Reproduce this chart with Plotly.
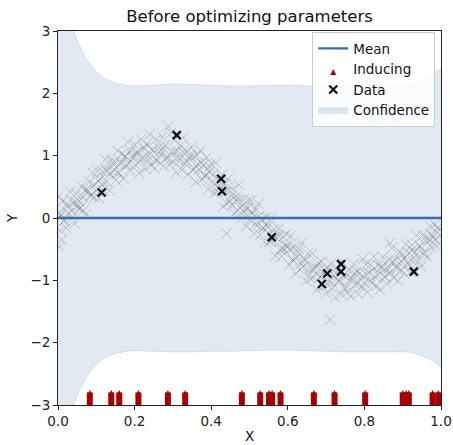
import plotly.graph_objects as go

# ---------------- data ----------------
gray_x = [
    0.002, 0.006, 0.009, 0.013, 0.017, 0.021, 0.024, 0.028, 0.032, 0.036, 0.040, 0.043, 0.047, 0.051, 0.055, 0.058, 0.062, 0.066, 0.070, 0.074, 0.078, 0.082, 0.086, 0.090, 0.095,
    0.099, 0.103, 0.107, 0.111, 0.115, 0.119, 0.123, 0.127, 0.131, 0.135, 0.139, 0.143, 0.147, 0.151, 0.155, 0.159, 0.163, 0.167, 0.171, 0.175, 0.179, 0.183, 0.187, 0.191, 0.196,
    0.200, 0.204, 0.208, 0.212, 0.216, 0.220, 0.224, 0.228, 0.232, 0.236, 0.240, 0.244, 0.248, 0.252, 0.256, 0.260, 0.264, 0.268, 0.272, 0.276, 0.280, 0.284, 0.288, 0.292, 0.296,
    0.300, 0.304, 0.308, 0.312, 0.316, 0.320, 0.324, 0.328, 0.332, 0.336, 0.340, 0.344, 0.348, 0.352, 0.356, 0.360, 0.364, 0.368, 0.372, 0.376, 0.380, 0.384, 0.388, 0.392, 0.396,
    0.400, 0.404, 0.408, 0.412, 0.416, 0.420, 0.424, 0.428, 0.432, 0.436, 0.440, 0.444, 0.448, 0.452, 0.456, 0.460, 0.464, 0.468, 0.472, 0.476, 0.480, 0.484, 0.488, 0.492, 0.496,
    0.500, 0.504, 0.508, 0.512, 0.516, 0.520, 0.524, 0.528, 0.532, 0.536, 0.540, 0.544, 0.548, 0.552, 0.556, 0.560, 0.564, 0.568, 0.572, 0.576, 0.580, 0.584, 0.588, 0.592, 0.596,
    0.600, 0.604, 0.608, 0.612, 0.616, 0.620, 0.624, 0.628, 0.632, 0.636, 0.640, 0.644, 0.648, 0.652, 0.656, 0.660, 0.664, 0.668, 0.672, 0.676, 0.680, 0.684, 0.688, 0.692, 0.696,
    0.700, 0.704, 0.708, 0.712, 0.716, 0.720, 0.724, 0.728, 0.732, 0.736, 0.740, 0.744, 0.748, 0.752, 0.756, 0.760, 0.764, 0.768, 0.772, 0.776, 0.780, 0.784, 0.788, 0.792, 0.796,
    0.800, 0.804, 0.808, 0.812, 0.816, 0.820, 0.824, 0.828, 0.832, 0.836, 0.840, 0.844, 0.848, 0.852, 0.856, 0.860, 0.864, 0.868, 0.872, 0.876, 0.880, 0.884, 0.888, 0.892, 0.896,
    0.900, 0.904, 0.908, 0.912, 0.916, 0.920, 0.924, 0.928, 0.932, 0.936, 0.940, 0.944, 0.948, 0.952, 0.956, 0.960, 0.964, 0.968, 0.972, 0.976, 0.980, 0.984, 0.988, 0.992, 0.997,
    0.004, 0.010, 0.001, 0.440, 0.710, 0.867,
    0.005, 0.015, 0.025, 0.035, 0.045, 0.055, 0.065, 0.075, 0.085, 0.095,
    0.105, 0.115, 0.125, 0.135, 0.145, 0.155, 0.165, 0.175, 0.185, 0.195,
    0.205, 0.215, 0.225, 0.235, 0.245, 0.255, 0.265, 0.275, 0.285, 0.295,
    0.305, 0.315, 0.325, 0.335, 0.345, 0.355, 0.365, 0.375, 0.385, 0.395,
    0.405, 0.415, 0.425, 0.435, 0.445, 0.455, 0.465, 0.475, 0.485, 0.495,
    0.505, 0.515, 0.525, 0.535, 0.545, 0.555, 0.565, 0.575, 0.585, 0.595,
    0.605, 0.615, 0.625, 0.635, 0.645, 0.655, 0.665, 0.675, 0.685, 0.695,
    0.705, 0.715, 0.725, 0.735, 0.745, 0.755, 0.765, 0.775, 0.785, 0.795,
    0.805, 0.815, 0.825, 0.835, 0.845, 0.855, 0.865, 0.875, 0.885, 0.895,
    0.905, 0.915, 0.925, 0.935, 0.945, 0.955, 0.965, 0.975, 0.985, 0.995,
]
gray_y = [
    0.08, -0.20, 0.05, 0.27, -0.04, -0.16, 0.23, 0.08, 0.42, 0.00, 0.25, -0.09, 0.39, 0.18, 0.27, 0.16, 0.51, 0.12, 0.44, 0.06, 0.43, 0.58, 0.35, 0.73, 0.33,
    0.44, 0.75, 0.32, 0.62, 0.75, 0.44, 0.94, 0.58, 0.77, 0.44, 0.93, 0.75, 0.91, 0.61, 1.08, 0.72, 0.87, 1.03, 0.63, 0.99, 0.85, 1.22, 0.77, 1.08, 0.96,
    1.18, 0.84, 1.06, 0.72, 1.26, 0.96, 1.13, 0.79, 1.19, 0.93, 1.34, 0.85, 1.08, 0.79, 1.26, 0.92, 1.13, 1.01, 1.30, 0.83, 1.17, 0.96, 1.47, 0.86, 1.37,
    0.91, 1.25, 0.73, 1.07, 0.96, 1.16, 0.77, 1.29, 0.87, 1.07, 0.70, 0.95, 1.13, 0.77, 0.99, 0.58, 1.01, 0.78, 1.08, 0.62, 0.84, 0.66, 0.97, 0.46, 0.82,
    0.87, 0.59, 0.40, 0.88, 0.42, 0.60, 0.51, 0.69, 0.18, 0.54, 0.24, 0.63, 0.27, 0.36, 0.46, 0.07, 0.34, 0.12, 0.53, 0.17, 0.00, 0.30, 0.15, -0.13, 0.28,
    -0.04, 0.28, 0.07, -0.25, 0.14, -0.12, 0.23, -0.27, -0.02, -0.16, -0.39, 0.01, -0.15, -0.38, 0.00, -0.35, -0.18, -0.61, -0.33, -0.17, -0.51, -0.62, -0.30, -0.51, -0.26,
    -0.45, -0.75, -0.29, -0.67, -0.47, -0.89, -0.62, -0.49, -0.83, -0.40, -0.78, -0.65, -1.01, -0.57, -0.81, -0.98, -0.57, -0.94, -0.80, -1.15, -0.72, -0.95, -0.70, -1.11, -0.84,
    -1.21, -0.81, -1.03, -0.73, -1.13, -0.93, -1.28, -0.79, -1.01, -0.88, -1.22, -0.72, -1.12, -0.94, -1.19, -0.84, -1.26, -0.98, -0.74, -1.07, -0.86, -1.22, -0.89, -1.11, -0.66,
    -1.04, -0.75, -1.19, -0.88, -0.75, -1.05, -0.62, -0.94, -1.09, -0.76, -1.15, -0.78, -0.63, -0.94, -0.82, -1.06, -0.67, -0.87, -0.48, -0.96, -0.67, -0.78, -1.01, -0.55, -0.84,
    -0.59, -0.89, -0.42, -0.72, -0.56, -0.87, -0.43, -0.71, -0.55, -0.28, -0.70, -0.45, -0.78, -0.28, -0.54, -0.30, -0.63, -0.34, -0.13, -0.47, -0.31, -0.11, -0.45, -0.15, -0.28,
    -0.46, -0.35, 0.35, -0.25, -1.63, -0.40,
    0.03, -0.05, 0.19, 0.11, 0.26, 0.14, 0.33, 0.46, 0.37, 0.53,
    0.60, 0.53, 0.77, 0.70, 0.86, 0.73, 0.89, 0.99, 0.87, 1.00,
    1.04, 0.92, 1.11, 0.99, 1.10, 0.93, 1.06, 1.12, 0.97, 1.06,
    1.06, 0.91, 1.07, 0.92, 1.00, 0.79, 0.87, 0.89, 0.69, 0.74,
    0.70, 0.50, 0.61, 0.42, 0.45, 0.21, 0.29, 0.30, 0.10, 0.15,
    0.10, -0.09, 0.03, -0.16, -0.12, -0.36, -0.29, -0.28, -0.49, -0.45,
    -0.50, -0.68, -0.55, -0.73, -0.68, -0.91, -0.81, -0.77, -0.94, -0.89,
    -0.90, -1.04, -0.87, -1.01, -0.92, -1.11, -0.97, -0.89, -1.04, -0.93,
    -0.90, -1.01, -0.81, -0.92, -0.80, -0.95, -0.80, -0.70, -0.82, -0.69,
    -0.65, -0.74, -0.51, -0.60, -0.45, -0.58, -0.39, -0.26, -0.35, -0.19,
]

data_x = [0.114, 0.310, 0.426, 0.428, 0.558, 0.689, 0.703, 0.739, 0.739, 0.929]
data_y = [0.41, 1.33, 0.63, 0.43, -0.31, -1.06, -0.89, -0.74, -0.86, -0.86]

inducing_x = [0.083, 0.139, 0.160, 0.210, 0.287, 0.332, 0.480, 0.528, 0.551, 0.559,
              0.581, 0.668, 0.722, 0.802, 0.900, 0.909, 0.916, 0.978, 0.993]

grid_x = [0.0, 0.02, 0.04, 0.06, 0.08, 0.10, 0.12, 0.14, 0.16, 0.18, 0.20, 0.25, 0.30, 0.35, 0.40,
          0.45, 0.50, 0.55, 0.60, 0.65, 0.70, 0.75, 0.80, 0.85, 0.90, 0.92, 0.94, 0.96, 0.98, 1.0]
mean_y = [0.0] * len(grid_x)
upper_y = [3.9, 3.45, 3.02, 2.72, 2.5, 2.35, 2.25, 2.19, 2.15, 2.13, 2.12, 2.13, 2.15, 2.14, 2.13,
           2.12, 2.12, 2.13, 2.13, 2.12, 2.11, 2.10, 2.10, 2.11, 2.12, 2.14, 2.18, 2.24, 2.32, 2.41]
lower_y = [-3.9, -3.45, -3.02, -2.72, -2.5, -2.35, -2.25, -2.19, -2.16, -2.14, -2.13, -2.14, -2.15, -2.15, -2.14,
           -2.14, -2.13, -2.12, -2.12, -2.13, -2.14, -2.15, -2.15, -2.15, -2.15, -2.16, -2.19, -2.24, -2.30, -2.39]

x_ticks = [0.0, 0.2, 0.4, 0.6, 0.8, 1.0]
y_ticks = [-3, -2, -1, 0, 1, 2, 3]
Y_MIN, Y_MAX = -3, 3

# ---------------- styles ----------------
FONT = "DejaVu Sans"
MEAN_C = "#3b6cb0"
BAND_C = "rgba(59,108,176,0.15)"
RED = "#a80000"
PLOT_H = 374  # px height of plot area

fig = go.Figure()

fig.add_trace(go.Scatter(x=grid_x, y=lower_y, mode="lines", line=dict(color="rgba(59,108,176,0.18)", width=0.8, shape="spline"),
                         showlegend=False, hoverinfo="skip"))
fig.add_trace(go.Scatter(x=grid_x, y=upper_y, mode="lines", fill="tonexty", fillcolor=BAND_C,
                         line=dict(color="rgba(59,108,176,0.18)", width=0.8, shape="spline"),
                         name="Confidence", legendrank=4))

fig.add_trace(go.Scatter(x=gray_x, y=gray_y, mode="markers", showlegend=False,
                         marker=dict(symbol="x-thin", size=10.5, color="rgba(0,0,0,0.18)",
                                     line=dict(width=1, color="rgba(0,0,0,0.18)"))))

fig.add_trace(go.Scatter(x=grid_x, y=mean_y, mode="lines", line=dict(color=MEAN_C, width=2.4),
                         name="Mean", legendrank=1))

fig.add_trace(go.Scatter(x=data_x, y=data_y, mode="markers", name="Data", legendrank=3,
                         marker=dict(symbol="x-thin", size=8, color="#111111",
                                     line=dict(width=2.2, color="#111111"))))

# inducing arrows: body (clipped vertical bar) + head
fig.add_trace(go.Scatter(x=inducing_x, y=[Y_MIN] * len(inducing_x), mode="markers", showlegend=False,
                         marker=dict(symbol="line-ns", size=18, color=RED, line=dict(width=6, color=RED))))
head_off = 15 * (Y_MAX - Y_MIN) / PLOT_H
fig.add_trace(go.Scatter(x=inducing_x, y=[Y_MIN + head_off] * len(inducing_x), mode="markers",
                         name="Inducing", legendrank=2,
                         marker=dict(symbol="arrow-up", size=6, color=RED, line=dict(width=0))))

axis_common = dict(showline=True, linecolor="#222222", linewidth=1, mirror=True, ticks="outside",
                   ticklen=4, tickwidth=0.8, tickcolor="#222222", showgrid=False, zeroline=False,
                   automargin=False, tickfont=dict(family=FONT, size=13.5, color="#222222"))

fig.update_layout(
    width=453, height=445,
    margin=dict(l=58, r=12, t=31, b=40),
    paper_bgcolor="white", plot_bgcolor="white",
    title=dict(text="Before optimizing parameters", font=dict(family=FONT, size=16.5, color="#111111"),
               x=(58 + 441) / 2 / 453, xanchor="center", y=1 - 16 / 445, yanchor="middle", yref="container"),
    xaxis=dict(range=[0, 1], tickvals=x_ticks, tickformat=".1f", **axis_common),
    yaxis=dict(range=[Y_MIN, Y_MAX], tickvals=y_ticks, tickformat="d", **axis_common),
    legend=dict(x=0.985, xanchor="right", y=0.997, yanchor="top", bgcolor="rgba(255,255,255,0.8)",
                traceorder="normal",
                bordercolor="#cccccc", borderwidth=1, font=dict(family=FONT, size=13.5, color="#111111")),
    showlegend=True,
    annotations=[
        dict(text="X", xref="paper", yref="paper", x=0.5, y=0, xanchor="center", yanchor="top",
             yshift=-21, showarrow=False, font=dict(family=FONT, size=13.5, color="#111111")),
        dict(text="Y", xref="paper", yref="paper", x=0, y=0.5, xanchor="right", yanchor="middle",
             xshift=-36, textangle=-90, showarrow=False, font=dict(family=FONT, size=13.5, color="#111111")),
    ],
)

fig.write_html("out.html")
